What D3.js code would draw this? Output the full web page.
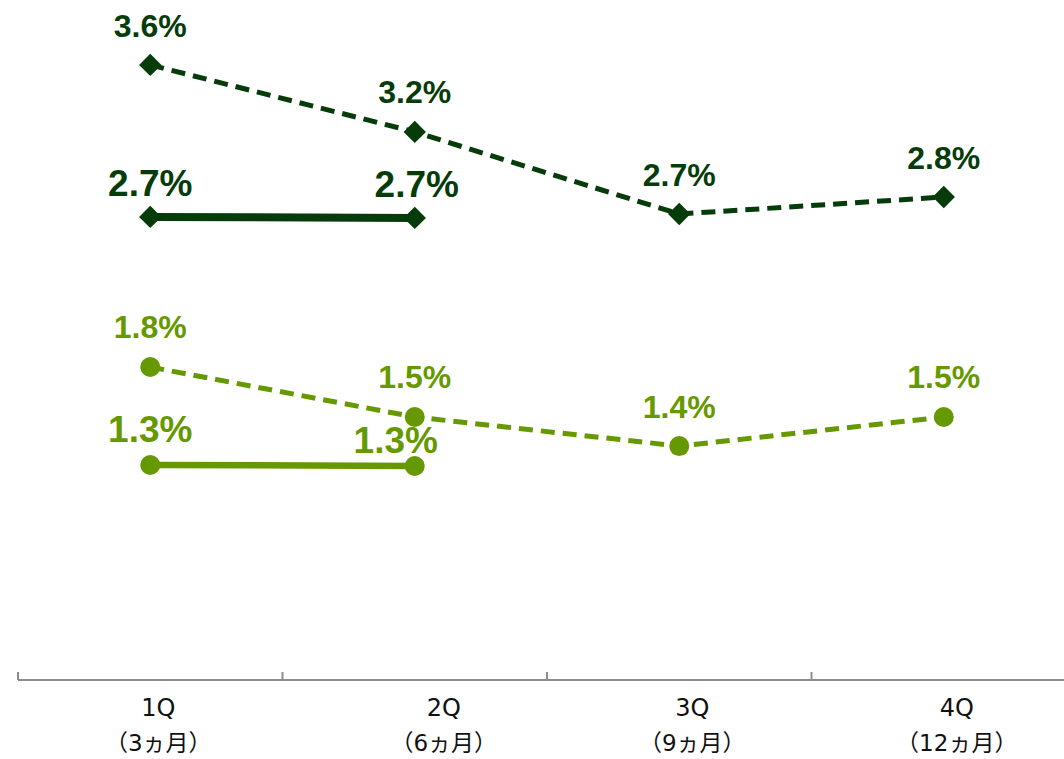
<!DOCTYPE html>
<html>
<head>
<meta charset="utf-8">
<script src="https://cdn.jsdelivr.net/npm/d3@7"></script>
<style>
  html, body { margin: 0; padding: 0; background: #ffffff; }
  svg { display: block; }
  .val { font-family: "Liberation Sans", Arial, sans-serif; font-weight: bold; text-anchor: middle; }
  .cat { font-family: "DejaVu Sans", "Noto Sans CJK JP", sans-serif; text-anchor: middle; fill: #111; }
</style>
</head>
<body>
<svg id="chart" width="1064" height="759"></svg>
<script>
// categories
const quarters = ["1Q", "2Q", "3Q", "4Q"];
const periods = ["（3ヵ月）", "（6ヵ月）", "（9ヵ月）", "（12ヵ月）"];

// series values (%)
const darkPrev = [3.618, 3.224, 2.741, 2.841];
const darkCurr = [2.724, 2.718];
const lightPrev = [1.841, 1.547, 1.376, 1.547];
const lightCurr = [1.265, 1.259];

const DARK = "#063b0a";
const LIGHT = "#669900";

const svg = d3.select("#chart");
const width = 1064, axisY = 680;

const x = d3.scaleBand().domain(quarters).range([18, 1076]);
const cx = q => x(q) + x.bandwidth() / 2;
const y = d3.scaleLinear().domain([0, 4]).range([axisY, axisY - 4 * 170]);

// series config: styling + label placement
const series = [
    {values: darkPrev, color: DARK, width: 5, dash: "14,8", marker: "diamond", font: 32, dy: [-28, -29, -28, -28], dx: [0, 0, 0, 0]},
    {values: darkCurr, color: DARK, width: 8, dash: null, marker: "diamond", font: 37, dy: [-21, -21], dx: [0, 2]},
    {values: lightPrev, color: LIGHT, width: 5, dash: "14,8", marker: "circle", font: 32, dy: [-29, -29, -28, -29], dx: [0, 0, 0, 0]},
    {values: lightCurr, color: LIGHT, width: 6.5, dash: null, marker: "circle", font: 37, dy: [-23, -13], dx: [0, -19]}
];

const line = d3.line()
    .x((d, i) => cx(quarters[i]))
    .y(d => y(d));

// axis
const axis = svg.append("g").attr("class", "x_axis");
axis.append("line")
    .attr("x1", x.range()[0]).attr("x2", width)
    .attr("y1", axisY).attr("y2", axisY)
    .attr("stroke", "#8c8c8c").attr("stroke-width", 2);
axis.selectAll(".tick")
    .data(quarters)
    .enter().append("line")
    .attr("class", "tick")
    .attr("x1", d => x(d)).attr("x2", d => x(d))
    .attr("y1", axisY - 8).attr("y2", axisY)
    .attr("stroke", "#8c8c8c").attr("stroke-width", 2);

const catShift = [8, 29, 13, 13];
axis.selectAll(".cat1")
    .data(quarters)
    .enter().append("text")
    .attr("class", "cat")
    .attr("x", (d, i) => cx(d) + catShift[i])
    .attr("y", 716)
    .style("font-size", "24px")
    .text(d => d);
axis.selectAll(".cat2")
    .data(periods)
    .enter().append("text")
    .attr("class", "cat")
    .attr("x", (d, i) => cx(quarters[i]) + catShift[i])
    .attr("y", 751)
    .style("font-size", "23px")
    .text(d => d);

// lines
series.forEach(s => {
    svg.append("path")
        .datum(s.values)
        .attr("d", line)
        .attr("fill", "none")
        .attr("stroke", s.color)
        .attr("stroke-width", s.width)
        .attr("stroke-dasharray", s.dash);
});

// markers
const diamond = d3.symbol().type(d3.symbolSquare).size(250);
series.forEach(s => {
    const g = svg.append("g");
    const pts = g.selectAll(".pt")
        .data(s.values)
        .enter();
    if (s.marker === "diamond") {
        pts.append("path")
            .attr("d", diamond)
            .attr("transform", (d, i) => "translate(" + cx(quarters[i]) + "," + y(d) + ") rotate(45)")
            .attr("fill", s.color);
    } else {
        pts.append("circle")
            .attr("cx", (d, i) => cx(quarters[i]))
            .attr("cy", d => y(d))
            .attr("r", 10)
            .attr("fill", s.color);
    }
});

// value labels
series.forEach(s => {
    svg.append("g").selectAll("text")
        .data(s.values)
        .enter().append("text")
        .attr("class", "val")
        .attr("x", (d, i) => cx(quarters[i]) + s.dx[i])
        .attr("y", (d, i) => y(d) + s.dy[i])
        .attr("fill", s.color)
        .style("font-size", s.font + "px")
        .text(d => d.toFixed(1) + "%");
});
</script>
</body>
</html>
